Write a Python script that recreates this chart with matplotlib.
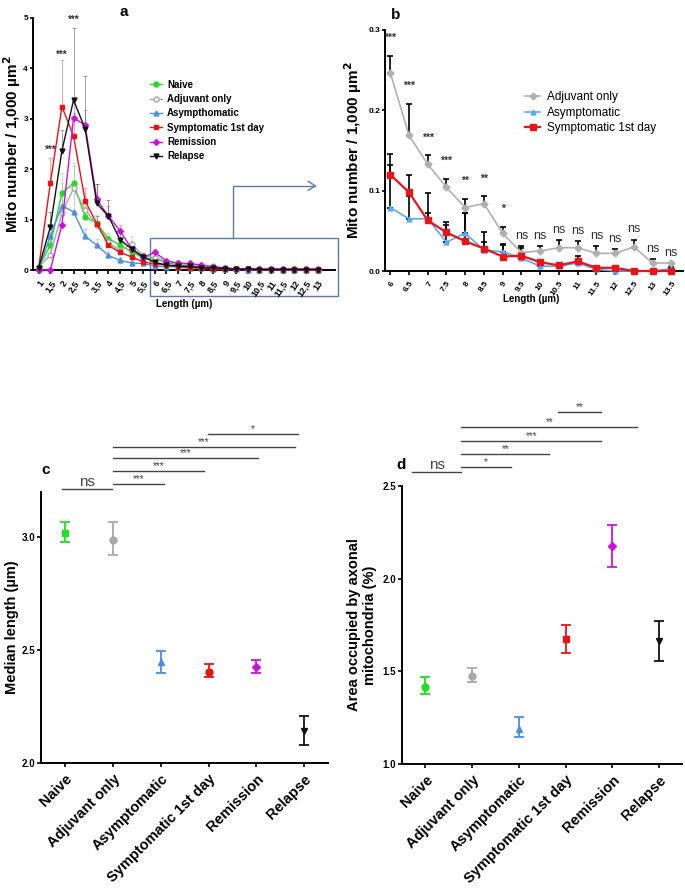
import matplotlib.pyplot as plt
import numpy as np

plt.rcParams['font.family'] = ['Liberation Sans', 'DejaVu Sans']

# ---- shared ----
groups = ['Naive', 'Adjuvant only', 'Asymptomatic', 'Symptomatic 1st day', 'Remission', 'Relapse']
legend_a = ['Naive', 'Adjuvant only', 'Asympthomatic', 'Symptomatic 1st day', 'Remission', 'Relapse']
colors = ['#22dd22', '#a8a8a8', '#4a8fe0', '#ee1111', '#cc11dd', '#111111']

# ---- panel a: length distribution ----
len_a = [1, 1.5, 2, 2.5, 3, 3.5, 4, 4.5, 5, 5.5, 6, 6.5, 7, 7.5, 8, 8.5, 9, 9.5,
         10, 10.5, 11, 11.5, 12, 12.5, 13]
naive_a = [0.05, 0.49, 1.53, 1.72, 1.05, 0.93, 0.62, 0.50, 0.36, 0.24, 0.22, 0.15, 0.10, 0.08,
           0.05, 0.04, 0.03, 0.02, 0.02, 0.02, 0.02, 0.01, 0.01, 0.01, 0.01]
adj_a = [0.05, 0.30, 1.13, 1.62, 1.20, 0.90, 0.55, 0.38, 0.52, 0.28, 0.245, 0.169, 0.133, 0.104,
         0.079, 0.084, 0.047, 0.023, 0.025, 0.029, 0.029, 0.022, 0.022, 0.030, 0.010]
asym_a = [0.02, 0.67, 1.28, 1.15, 0.67, 0.49, 0.29, 0.19, 0.14, 0.13, 0.079, 0.065, 0.065, 0.036,
          0.047, 0.026, 0.024, 0.016, 0.006, 0.006, 0.010, 0.002, 0.0, 0.0, 0.0]
sym_a = [0.05, 1.72, 3.24, 2.66, 1.37, 0.92, 0.49, 0.35, 0.26, 0.16, 0.120, 0.098, 0.063, 0.048,
         0.037, 0.028, 0.018, 0.019, 0.011, 0.007, 0.012, 0.004, 0.004, 0.0, 0.0]
rem_a = [0.0, 0.0, 0.90, 3.02, 2.87, 1.40, 1.07, 0.78, 0.42, 0.25, 0.35, 0.18, 0.14, 0.13,
         0.10, 0.06, 0.04, 0.02, 0.02, 0.02, 0.02, 0.02, 0.02, 0.02, 0.02]
rel_a = [0.05, 0.85, 2.37, 3.37, 2.80, 1.32, 1.07, 0.60, 0.42, 0.26, 0.15, 0.10, 0.08, 0.07,
         0.05, 0.04, 0.03, 0.02, 0.02, 0.01, 0.01, 0.01, 0.01, 0.01, 0.01]
naive_err_a = [0.02, 0.25, 0.40, 0.35, 0.20, 0.15, 0.12, 0.10, 0.08, 0.06, 0.05, 0.03, 0.03, 0.02,
               0.02, 0.01, 0.01, 0.01, 0.01, 0.01, 0.01, 0.0, 0.0, 0.0, 0.0]
adj_err_a = [0.02, 0.20, 0.60, 0.50, 0.25, 0.20, 0.12, 0.10, 0.16, 0.08, 0.023, 0.039, 0.011, 0.011,
             0.011, 0.009, 0.008, 0.008, 0.006, 0.009, 0.008, 0.009, 0.005, 0.009, 0.005]
asym_err_a = [0.01, 0.20, 0.25, 0.60, 0.15, 0.12, 0.08, 0.06, 0.05, 0.04, 0.053, 0.028, 0.007, 0.021,
              0.010, 0.010, 0.008, 0.006, 0.004, 0.004, 0.004, 0.002, 0.0, 0.0, 0.0]
sym_err_a = [0.02, 0.50, 0.93, 0.45, 0.25, 0.15, 0.10, 0.08, 0.05, 0.04, 0.026, 0.021, 0.034, 0.013,
             0.035, 0.021, 0.016, 0.010, 0.003, 0.003, 0.007, 0.001, 0.0, 0.0, 0.0]
rem_err_a = [0.0, 0.0, 0.30, 0.40, 0.30, 0.30, 0.20, 0.12, 0.10, 0.06, 0.05, 0.04, 0.03, 0.03,
             0.02, 0.02, 0.01, 0.01, 0.01, 0.01, 0.01, 0.01, 0.01, 0.01, 0.01]
rel_err_a = [0.02, 0.30, 0.40, 1.43, 1.05, 0.38, 0.32, 0.15, 0.12, 0.08, 0.05, 0.03, 0.02, 0.02,
             0.02, 0.01, 0.01, 0.01, 0.01, 0.0, 0.0, 0.0, 0.0, 0.0, 0.0]
stars_a_x = [1.5, 2, 2.5]
stars_a_y = [2.38, 4.26, 4.96]

# ---- panel b: zoom 6 - 13.5 um ----
len_b = [6, 6.5, 7, 7.5, 8, 8.5, 9, 9.5, 10, 10.5, 11, 11.5, 12, 12.5, 13, 13.5]
len_b_labels = ['6', '6.5', '7', '7.5', '8', '8.5', '9', '9.5', '10', '10.5', '11', '11.5',
                '12', '12.5', '13', '13.5']
adj_b = [0.247, 0.169, 0.133, 0.104, 0.079, 0.084, 0.047, 0.023, 0.025, 0.029, 0.029, 0.022,
         0.022, 0.030, 0.010, 0.010]
adj_err_b = [0.021, 0.039, 0.011, 0.011, 0.011, 0.009, 0.008, 0.008, 0.006, 0.009, 0.008, 0.009,
             0.005, 0.009, 0.005, 0.0]
asym_b = [0.079, 0.065, 0.065, 0.036, 0.047, 0.026, 0.024, 0.016, 0.006, 0.006, 0.010, 0.002,
          0.0, 0.0, 0.0, 0.003]
asym_err_b = [0.053, 0.028, 0.007, 0.021, 0.025, 0.010, 0.008, 0.006, 0.004, 0.004, 0.004, 0.002,
              0.0, 0.0, 0.0, 0.002]
sym_b = [0.120, 0.098, 0.063, 0.048, 0.037, 0.028, 0.018, 0.019, 0.011, 0.007, 0.012, 0.004,
         0.004, 0.0, 0.0, 0.0]
sym_err_b = [0.026, 0.021, 0.034, 0.013, 0.035, 0.021, 0.016, 0.010, 0.003, 0.003, 0.007, 0.001,
             0.0, 0.0, 0.0, 0.0]
sig_b = ['***', '***', '***', '***', '**', '**', '*', 'ns', 'ns', 'ns', 'ns', 'ns', 'ns', 'ns',
         'ns', 'ns']

# ---- panel c / d ----
median_len = [3.02, 2.99, 2.447, 2.405, 2.425, 2.143]
median_lo = [2.98, 2.92, 2.40, 2.38, 2.40, 2.08]
median_hi = [3.066, 3.07, 2.496, 2.44, 2.456, 2.21]
area = [1.414, 1.475, 1.19, 1.673, 2.178, 1.665]
area_lo = [1.376, 1.44, 1.146, 1.60, 2.065, 1.555]
area_hi = [1.467, 1.52, 1.254, 1.75, 2.29, 1.77]
# comparisons: (x1, x2, y, label)
comp_c = [(-0.06, 0.99, 3.216, 'ns'), (1.0, 2.06, 3.238, '***'), (1.0, 2.9, 3.295, '***'),
          (1.0, 4.03, 3.352, '***'), (1.0, 4.81, 3.40, '***'), (2.98, 4.87, 3.458, '*')]
comp_d = [(-0.28, 0.77, 2.576, 'ns'), (0.77, 1.83, 2.603, '*'), (0.77, 2.65, 2.673, '**'),
          (0.77, 3.76, 2.743, '***'), (0.77, 4.54, 2.819, '**'), (2.84, 3.76, 2.90, '**')]

fig = plt.figure(figsize=(6.85, 8.9), dpi=100)


def style(ax):
    for s in ['top', 'right']:
        ax.spines[s].set_visible(False)
    for s in ['left', 'bottom']:
        ax.spines[s].set_linewidth(1.4)
    ax.tick_params(width=1.2, length=3)


# ----- a -----
ax = fig.add_axes([0.048, 0.6966, 0.441, 0.2832])
style(ax)
ax.tick_params(axis='y', length=2.5, pad=1)
series_a = [naive_a, adj_a, asym_a, sym_a, rem_a, rel_a]
errs_a = [naive_err_a, adj_err_a, asym_err_a, sym_err_a, rem_err_a, rel_err_a]
markers_a = ['o', 'o', '^', 's', 'D', 'v']
for i in range(6):
    ax.errorbar(len_a, series_a[i], yerr=[np.zeros(len(len_a)), errs_a[i]], fmt='none',
                ecolor=colors[i], alpha=0.45, elinewidth=0.6, capsize=1.5, capthick=0.6)
for i in range(6):
    fc = 'white' if i == 1 else colors[i]
    ax.plot(len_a, series_a[i], color=colors[i], marker=markers_a[i], ms=3.5 if i != 4 else 3,
            mfc=fc, mec=colors[i], lw=1.0, label=legend_a[i], clip_on=False, zorder=3)
for x, y in zip(stars_a_x, stars_a_y):
    ax.text(x, y, '***', ha='center', va='center', fontsize=7, fontweight='bold', color='#333333')
ax.set_xlim(0.75, 13.75)
ax.set_ylim(0, 5)
ax.set_yticks([0, 1, 2, 3, 4, 5])
ax.set_yticklabels(['0', '1', '2', '3', '4', '5'], fontsize=6, fontweight='bold')
ax.set_xticks(len_a)
ax.set_xticklabels([('%g' % v).replace('.', ',') for v in len_a], rotation=55, ha='right',
                   va='top', rotation_mode='anchor', fontsize=6.5, fontweight='bold')
ax.set_ylabel('Mito number / 1,000 µm$^{\\mathbf{2}}$', fontsize=11, fontweight='bold')
ax.yaxis.set_label_coords(-0.032, 0.5)
ax.set_xlabel('Length (µm)', fontsize=7, fontweight='bold')
ax.xaxis.set_label_coords(0.5, -0.115)
ax.legend(loc='upper left', bbox_to_anchor=(0.37, 0.775), frameon=False,
          prop={'weight': 'bold', 'size': 7}, handlelength=1.3, handletextpad=0.5,
          labelspacing=0.45, borderpad=0)
# zoom box + arrow
box_c = '#5a7aa8'
ax.add_patch(plt.Rectangle((5.78, -0.52), 8.12, 1.16, fill=False, ec=box_c, lw=1.0, clip_on=False))
ax.plot([9.36, 9.36, 12.9], [0.64, 1.67, 1.67], color=box_c, lw=1.0, clip_on=False)
ax.plot([12.6, 12.9, 12.6], [1.76, 1.67, 1.58], color=box_c, lw=1.0, clip_on=False)
fig.text(0.181, 0.987, 'a', fontsize=11, fontweight='bold', ha='center', va='center')

# ----- b -----
ax = fig.add_axes([0.562, 0.6955, 0.435, 0.2708])
style(ax)
ax.tick_params(axis='y', length=2.5, pad=1)
ax.errorbar(len_b, adj_b, yerr=[np.zeros(16), adj_err_b], fmt='none', ecolor='black',
            elinewidth=1.2, capsize=2, capthick=1.2)
ax.errorbar(len_b, sym_b, yerr=[np.zeros(16), sym_err_b], fmt='none', ecolor='black',
            elinewidth=1.2, capsize=2, capthick=1.2)
ax.errorbar(len_b, asym_b, yerr=[np.zeros(16), asym_err_b], fmt='none', ecolor='black',
            elinewidth=1.2, capsize=2, capthick=1.2)
ax.plot(len_b, adj_b, color='#b0b0b0', marker='D', ms=3.5, lw=1.2, label='Adjuvant only',
        zorder=3)
ax.plot(len_b, asym_b, color='#5aaaf0', marker='^', ms=3.5, lw=1.2, label='Asymptomatic',
        zorder=3, clip_on=False)
ax.plot(len_b, sym_b, color='#e8141a', marker='s', ms=4.5, lw=1.6, label='Symptomatic 1st day',
        zorder=4, clip_on=False)
for x, y, e, s in zip(len_b, adj_b, adj_err_b, sig_b):
    if s == 'ns':
        ax.text(x, y + e + 0.013, s, ha='center', va='center', fontsize=9, color='#333333')
    else:
        ax.text(x, y + e + 0.022, s, ha='center', va='center', fontsize=7.5, fontweight='bold',
                color='#333333')
ax.set_xlim(5.86, 13.81)
ax.set_ylim(0, 0.3)
ax.set_yticks([0, 0.1, 0.2, 0.3])
ax.set_yticklabels(['0.0', '0.1', '0.2', '0.3'], fontsize=6, fontweight='bold')
ax.set_xticks(len_b)
ax.set_xticklabels(len_b_labels, rotation=55, ha='right', va='top', rotation_mode='anchor',
                   fontsize=6, fontweight='bold')
ax.set_ylabel('Mito number / 1,000 µm$^{\\mathbf{2}}$', fontsize=11, fontweight='bold')
ax.yaxis.set_label_coords(-0.07, 0.5)
ax.set_xlabel('Length (µm)', fontsize=7, fontweight='bold')
ax.xaxis.set_label_coords(0.49, -0.095)
ax.legend(loc='upper left', bbox_to_anchor=(0.45, 0.77), frameon=False, fontsize=8.5,
          handlelength=1.3, handletextpad=0.6, labelspacing=0.3, borderpad=0)
fig.text(0.577, 0.983, 'b', fontsize=11, fontweight='bold', ha='center', va='center')

# ----- c / d -----
markers_c = ['s', 'o', '^', 'o', 'D', 'v']
markers_d = ['o', 'o', '^', 's', 'D', 'v']


def dot_panel(rect, vals, lo, hi, markers, comps, ylim, yticks, ylabel, label_x, letter,
              letter_xy):
    ax = fig.add_axes(rect)
    style(ax)
    ax.tick_params(axis='y', pad=1.5)
    for i in range(6):
        ax.errorbar(i, vals[i], yerr=[[vals[i] - lo[i]], [hi[i] - vals[i]]], fmt=markers[i],
                    color=colors[i], ms=5 if markers[i] != 'D' else 4, elinewidth=1.3,
                    capsize=3.5, capthick=1.3)
    ax.set_xlim(-0.5, 5.5)
    ax.set_ylim(*ylim)
    ax.set_yticks(yticks)
    ax.set_yticklabels(['%.1f' % v for v in yticks], fontsize=7, fontweight='bold')
    ax.set_xticks(range(6))
    ax.set_xticklabels(groups, rotation=45, ha='right', va='top', rotation_mode='anchor',
                       fontsize=10.5, fontweight='bold')
    ax.set_ylabel(ylabel, fontsize=10.5, fontweight='bold')
    ax.yaxis.set_label_coords(label_x, 0.5)
    for x1, x2, y, lab in comps:
        ax.plot([x1, x2], [y, y], color='#444444', lw=1.0, clip_on=False)
        if lab == 'ns':
            ax.text((x1 + x2) / 2, y, lab, ha='center', va='bottom', fontsize=11,
                    color='#444444')
        else:
            ax.text((x1 + x2) / 2, y, lab, ha='center', va='bottom', fontsize=7,
                    color='#444444')
    fig.text(letter_xy[0], letter_xy[1], letter, fontsize=11, fontweight='bold',
             ha='center', va='center')
    return ax


dot_panel([0.06, 0.1427, 0.419, 0.3043], median_len, median_lo, median_hi, markers_c, comp_c,
          (2.0, 3.2), [2.0, 2.5, 3.0], 'Median length (µm)', -0.078, 'c', (0.066, 0.472))
dot_panel([0.587, 0.1416, 0.409, 0.3124], area, area_lo, area_hi, markers_d, comp_d,
          (1.0, 2.5), [1.0, 1.5, 2.0, 2.5], 'Area occupied by axonal\nmitochondria (%)', -0.09,
          'd', (0.586, 0.478))

fig.savefig('out.png', dpi=100)
